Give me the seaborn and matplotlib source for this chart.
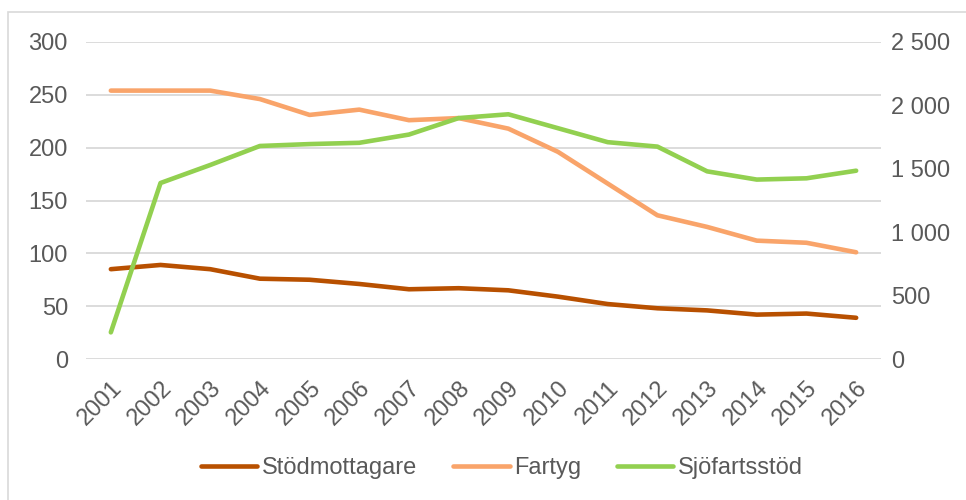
import matplotlib
matplotlib.use("Agg")
import matplotlib.pyplot as plt
import seaborn as sns
import pandas as pd
from matplotlib.patches import Rectangle
from matplotlib.lines import Line2D

# Data
years = ["2001", "2002", "2003", "2004", "2005", "2006", "2007", "2008",
         "2009", "2010", "2011", "2012", "2013", "2014", "2015", "2016"]
stodmottagare = [85, 89, 85, 76, 75, 71, 66, 67, 65, 59, 52, 48, 46, 42, 43, 39]
fartyg = [254, 254, 254, 246, 231, 236, 226, 228, 218, 196, 166, 136, 125, 112, 110, 101]
sjofartsstod = [210, 1388, 1530, 1680, 1695, 1705, 1770, 1900, 1930, 1820, 1710,
                1675, 1480, 1415, 1425, 1485]

left_ticks = [0, 50, 100, 150, 200, 250, 300]
right_ticks = [0, 500, 1000, 1500, 2000, 2500]
right_labels = ["0", "500", "1 000", "1 500", "2 000", "2 500"]

c_stod = "#B85000"
c_fartyg = "#F9A46A"
c_sjo = "#92D050"
txt = "#595959"
grid = "#D9D9D9"
fs = 17

sns.set_theme(style="white")
plt.rcParams["font.family"] = ["Liberation Sans", "DejaVu Sans"]

df = pd.DataFrame({"x": range(len(years)), "Stödmottagare": stodmottagare,
                   "Fartyg": fartyg, "Sjöfartsstöd": sjofartsstod})

fig = plt.figure(figsize=(9.66, 5), dpi=100)
ax = fig.add_axes([86 / 966, 1 - 359 / 500, (881 - 86) / 966, (359 - 42) / 500])
ax2 = ax.twinx()

# gridlines behind the lines
for t in left_ticks:
    ax.axhline(t, color=grid, lw=1.3, zorder=0)

lw = 3.3
sns.lineplot(data=df, x="x", y="Stödmottagare", ax=ax, color=c_stod, lw=lw,
             solid_capstyle="round")
sns.lineplot(data=df, x="x", y="Fartyg", ax=ax, color=c_fartyg, lw=lw,
             solid_capstyle="round")
sns.lineplot(data=df, x="x", y="Sjöfartsstöd", ax=ax2, color=c_sjo, lw=lw,
             solid_capstyle="round")

ax.set_xlim(-0.5, len(years) - 0.5)
ax.set_ylim(0, 300)
ax2.set_ylim(0, 2500)
ax.set_yticks(left_ticks)
ax2.set_yticks(right_ticks)
ax2.set_yticklabels(right_labels)
ax.set_xticks(range(len(years)))
ax.set_xticklabels(years, rotation=45, ha="right", rotation_mode="anchor")

for a in (ax, ax2):
    a.set_xlabel("")
    a.set_ylabel("")
    for s in a.spines.values():
        s.set_visible(False)
    a.tick_params(length=0, labelsize=fs, colors=txt)
ax.tick_params(axis="y", pad=13)
ax2.tick_params(axis="y", pad=7)
ax.tick_params(axis="x", pad=13)
ax.set_facecolor("none")

handles = [Line2D([0], [0], color=c, lw=lw, solid_capstyle="round")
           for c in (c_stod, c_fartyg, c_sjo)]
fig.legend(handles, ["Stödmottagare", "Fartyg", "Sjöfartsstöd"], loc="center",
           bbox_to_anchor=(502 / 966, 1 - 468 / 500), ncol=3, frameon=False,
           fontsize=fs, labelcolor=txt, handlelength=2.4, handletextpad=0.2,
           columnspacing=1.5)

# outer chart border
fig.patches.append(Rectangle((8 / 966, -0.1), 1.2, 1 - 12 / 500 + 0.1,
                             transform=fig.transFigure, fill=False,
                             edgecolor=grid, lw=1.2))

fig.savefig("out.png", dpi=100)
